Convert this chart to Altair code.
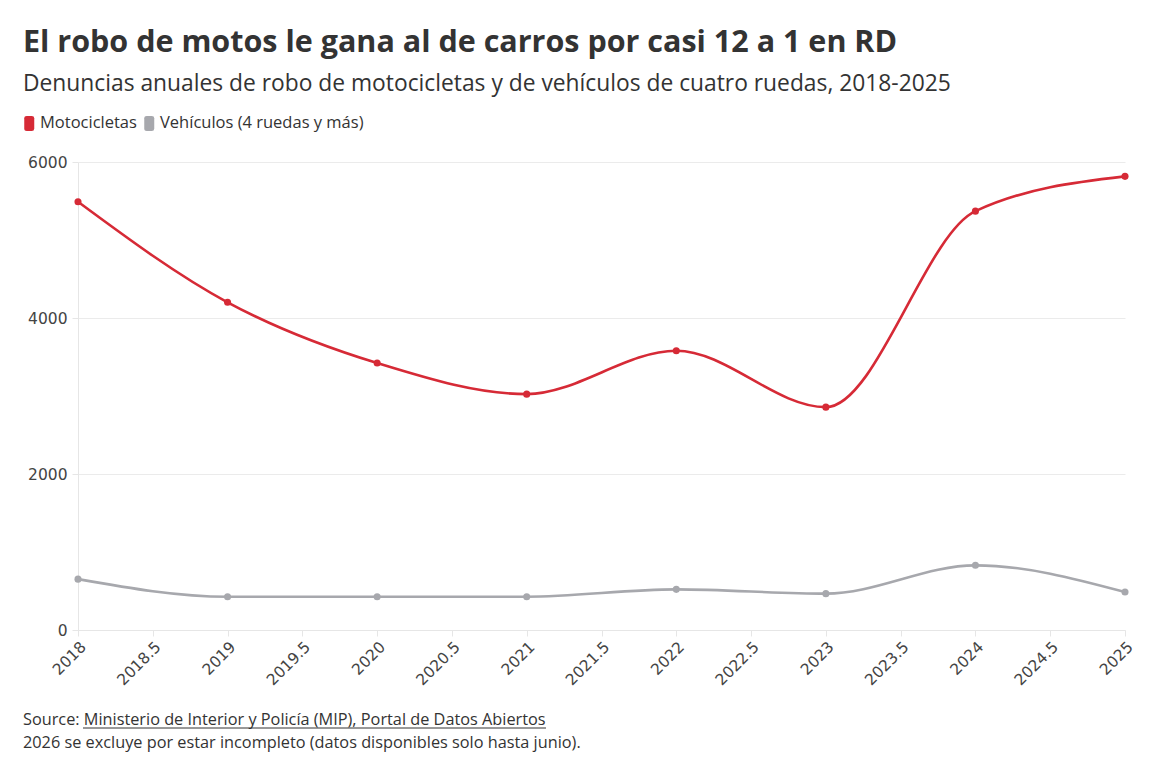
import altair as alt
import pandas as pd

FONT = "Open Sans"
AXIS_FONT = "DejaVu Sans"

years = [2018, 2019, 2020, 2021, 2022, 2023, 2024, 2025]
motos = [5490, 4201, 3422, 3024, 3580, 2857, 5370, 5816]
vehiculos = [652, 426, 427, 427, 521, 466, 829, 487]
series = ["Motocicletas", "Vehículos (4 ruedas y más)"]
colors = ["#d62a36", "#a7a8ad"]
x_ticks = [2018, 2018.5, 2019, 2019.5, 2020, 2020.5, 2021, 2021.5,
           2022, 2022.5, 2023, 2023.5, 2024, 2024.5, 2025]
y_ticks = [0, 2000, 4000, 6000]

title_text = "El robo de motos le gana al de carros por casi 12 a 1 en RD"
subtitle_text = "Denuncias anuales de robo de motocicletas y de vehículos de cuatro ruedas, 2018-2025"
source_line = "Source: Ministerio de Interior y Policía (MIP), Portal de Datos Abiertos"
note_line = "2026 se excluye por estar incompleto (datos disponibles solo hasta junio)."

rows = []
for y, m, v in zip(years, motos, vehiculos):
    rows.append({"year": y, "value": m, "series": series[0]})
    rows.append({"year": y, "value": v, "series": series[1]})
df = pd.DataFrame(rows)

W, H = 1047, 468

x_enc = alt.X(
    "year:Q",
    scale=alt.Scale(domain=[2018, 2025], nice=False, zero=False),
    axis=alt.Axis(values=x_ticks, format="~g", labelAngle=-45, grid=False, title=None,
                  tickSize=6, labelPadding=3),
)
y_enc = alt.Y(
    "value:Q",
    scale=alt.Scale(domain=[0, 6000], nice=False),
    axis=alt.Axis(values=y_ticks, format="d", title=None, tickSize=6, labelPadding=5),
)

rounded_rect = ("M-0.667,-1 L0,-1 Q0.333,-1 0.333,-0.667 L0.333,0.667 "
                "Q0.333,1 0,1 L-0.667,1 Q-1,1 -1,0.667 "
                "L-1,-0.667 Q-1,-1 -0.667,-1 Z")

lines = alt.Chart(df).mark_line(interpolate="monotone", strokeWidth=2.6).encode(
    x=x_enc, y=y_enc,
    color=alt.Color("series:N", scale=alt.Scale(domain=series, range=colors), legend=None),
)
points = alt.Chart(df).mark_point(filled=True, size=50, opacity=1, shape="circle").encode(
    x=x_enc, y=y_enc,
    fill=alt.Fill(
        "series:N",
        scale=alt.Scale(domain=series, range=colors),
        legend=alt.Legend(
            title=None, orient="none", legendX=-54.5, legendY=-47, direction="horizontal",
            symbolType=rounded_rect, symbolSize=225, symbolStrokeWidth=0,
            labelFont=FONT, labelFontSize=16.5, labelColor="#333333", labelLimit=500,
            labelOffset=0, columnPadding=6,
        ),
    ),
)

inner = alt.layer(lines, points).properties(width=W, height=H)

footer_df = pd.DataFrame({"t": [source_line + "\n" + note_line]})
footer_text = alt.Chart(footer_df).mark_text(
    align="left", baseline="alphabetic", font=FONT, fontSize=16.3, color="#333333",
    lineBreak="\n", lineHeight=23,
).encode(x=alt.value(-55), y=alt.value(14), text="t:N")
footer_rule = alt.Chart(footer_df).mark_rule(color="#333333", strokeWidth=1).encode(
    x=alt.value(5), x2=alt.value(468), y=alt.value(17)
)
footer = alt.layer(footer_text, footer_rule).properties(width=W, height=40)

chart = alt.vconcat(inner, footer, spacing=22).resolve_legend(fill="independent").properties(
    title=alt.TitleParams(
        text=title_text, subtitle=subtitle_text, anchor="start", frame="bounds",
        font=FONT, fontSize=30.5, fontWeight="bold", color="#333333",
        subtitleFont=FONT, subtitleFontSize=22.8, subtitleColor="#333333",
        subtitlePadding=15, offset=19,
    ),
    padding={"left": 15, "top": 19, "right": 10, "bottom": 6},
).configure_view(stroke=None).configure_axis(
    labelFont=AXIS_FONT, labelFontSize=15.5, labelColor="#444444",
    domainColor="#e6e6e6", tickColor="#e6e6e6", gridColor="#ebebeb",
)

chart.save("out.html", embed_options={"renderer": "svg", "actions": False})
